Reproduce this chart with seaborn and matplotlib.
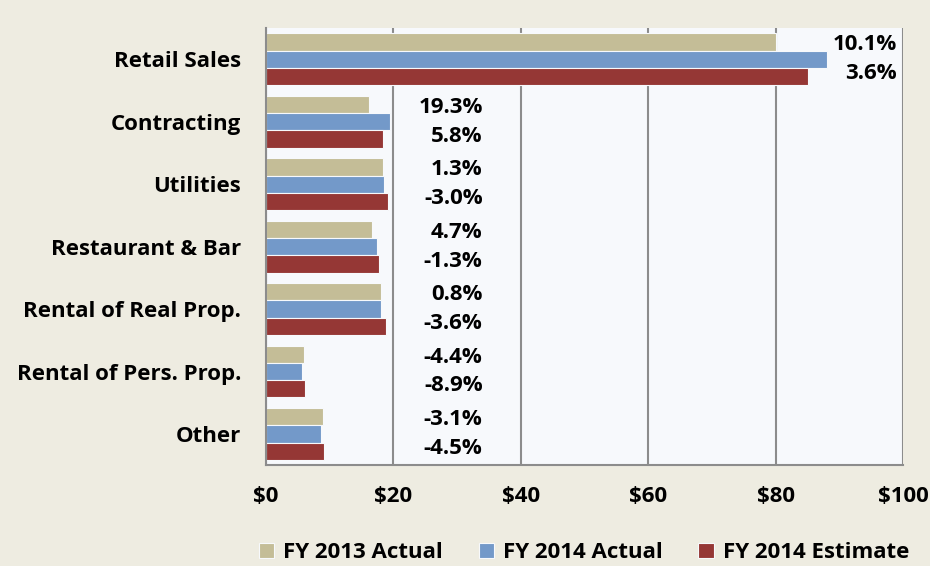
import numpy as np
import pandas as pd
import seaborn as sns
import matplotlib.pyplot as plt
from matplotlib.ticker import FixedLocator, FuncFormatter

categories = ["Retail Sales", "Contracting", "Utilities", "Restaurant & Bar",
              "Rental of Real Prop.", "Rental of Pers. Prop.", "Other"]
series = ["FY 2013 Actual", "FY 2014 Actual", "FY 2014 Estimate"]
fy13_actual = [80.1, 16.2, 18.3, 16.6, 18.0, 5.9, 9.0]
fy14_actual = [88.1, 19.4, 18.5, 17.4, 18.1, 5.6, 8.6]
fy14_estimate = [85.1, 18.3, 19.1, 17.7, 18.8, 6.1, 9.1]
growth_actual = ["10.1%", "19.3%", "1.3%", "4.7%", "0.8%", "-4.4%", "-3.1%"]
growth_estimate = ["3.6%", "5.8%", "-3.0%", "-1.3%", "-3.6%", "-8.9%", "-4.5%"]
label_x = [99, 34, 34, 34, 34, 34, 34]

colors = ["#C4BD97", "#7399C9", "#953735"]
FS = 16

df = pd.DataFrame({
    "Category": categories * 3,
    "Series": np.repeat(series, len(categories)),
    "Value": fy13_actual + fy14_actual + fy14_estimate,
})

sns.set_style("white")
plt.rcParams["font.family"] = ["Open Sans", "DejaVu Sans"]
plt.rcParams["font.weight"] = "bold"
plt.rcParams["text.color"] = "black"
plt.rcParams["xtick.labelcolor"] = "black"
plt.rcParams["ytick.labelcolor"] = "black"

fig = plt.figure(figsize=(9.3, 5.66), dpi=100)
fig.patch.set_facecolor("#EEECE1")
ax = fig.add_axes([0.286, 0.178, 0.685, 0.7725])
ax.set_facecolor("#F7F9FC")

sns.barplot(data=df, y="Category", x="Value", hue="Series", orient="h",
            palette=colors, width=0.83, edgecolor="#F7F9FC", linewidth=0.8,
            saturation=1, ax=ax, legend=True)

ax.set_xlim(0, 100)
ax.set_ylim(len(categories) - 0.5, -0.5)
ax.xaxis.set_major_locator(FixedLocator([0, 20, 40, 60, 80, 100]))
ax.xaxis.set_major_formatter(FuncFormatter(lambda v, p: f"${v:.0f}"))
ax.grid(axis="x", color="#8C8C8C", linewidth=1.5)
ax.set_axisbelow(True)
ax.set_xlabel("")
ax.set_ylabel("")

# category boundaries carry the y tick marks
ax.yaxis.set_minor_locator(FixedLocator(np.arange(-0.5, len(categories), 1)))
ax.tick_params(axis="y", which="major", length=0, pad=18, labelsize=FS, labelcolor="black")
ax.tick_params(axis="y", which="minor", length=6, color="#8C8C8C", width=1.2, direction="out")
ax.tick_params(axis="x", length=6, color="#8C8C8C", width=1.5, direction="out", pad=9,
               labelsize=FS, labelcolor="black")
for lab in ax.get_yticklabels() + ax.get_xticklabels():
    lab.set_fontweight("bold")

for side in ["top", "right"]:
    ax.spines[side].set_visible(False)
for side in ["left", "bottom"]:
    ax.spines[side].set_color("#8C8C8C")
    ax.spines[side].set_linewidth(1.5)

for i in range(len(categories)):
    ax.text(label_x[i], i - 0.23, growth_actual[i], ha="right", va="center",
            fontsize=FS, fontweight="bold", color="black")
    ax.text(label_x[i], i + 0.23, growth_estimate[i], ha="right", va="center",
            fontsize=FS, fontweight="bold", color="black")

handles, labels = ax.get_legend_handles_labels()
ax.get_legend().remove()
leg = fig.legend(handles, labels, loc="center", bbox_to_anchor=(0.628, 0.023), ncol=3,
                 frameon=False, handlelength=0.7, handleheight=0.7, handletextpad=0.4,
                 columnspacing=1.6, prop={"weight": "bold", "size": FS})
for t in leg.get_texts():
    t.set_color("black")

fig.savefig("out.png", dpi=100, facecolor=fig.get_facecolor())
